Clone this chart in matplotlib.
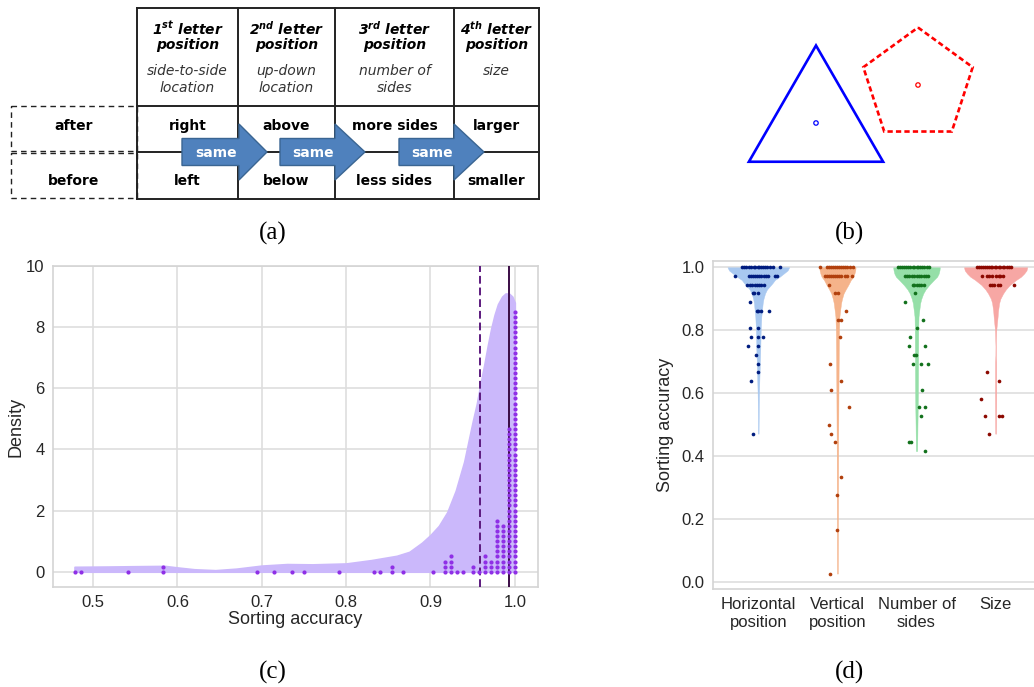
import numpy as np
import matplotlib
matplotlib.use("Agg")
import matplotlib.pyplot as plt
from matplotlib.patches import Polygon, Rectangle, RegularPolygon, Circle

plt.rcParams["font.family"] = ["Liberation Sans", "DejaVu Sans"]
plt.rcParams["mathtext.fontset"] = "custom"
plt.rcParams["mathtext.rm"] = "DejaVu Sans:italic:bold"
plt.rcParams["mathtext.it"] = "DejaVu Sans:italic:bold"

# Panel (a) table
ordinals = ["1", "2", "3", "4"]
ordinal_suffix = ["st", "nd", "rd", "th"]
dimension_desc = [["side-to-side", "location"], ["up-down", "location"],
                  ["number of", "sides"], ["size"]]
after_labels = ["right", "above", "more sides", "larger"]
before_labels = ["left", "below", "less sides", "smaller"]
row_names = ["after", "before"]
arrow_text = "same"

# Panel (b) shapes
shape_sides = [3, 5]

# Panel (c) per-participant sorting accuracy (value, number of participants)
acc_values = [0.478, 0.486, 0.542, 0.583, 0.694, 0.715, 0.736, 0.750, 0.792,
              0.833, 0.840, 0.854, 0.868, 0.903, 0.917, 0.924, 0.931, 0.938,
              0.951, 0.958, 0.965, 0.972, 0.979, 0.986, 0.993, 1.000]
acc_counts = [1, 1, 1, 2, 1, 1, 1, 1, 1, 1, 1, 2, 1, 1, 3, 4, 1, 1, 2, 1, 4, 3,
              11, 10, 29, 52]
kde_x = [0.478, 0.50, 0.52, 0.55, 0.585, 0.60, 0.62, 0.645, 0.67, 0.70, 0.73,
         0.76, 0.80, 0.83, 0.86, 0.875, 0.89, 0.90, 0.91, 0.92, 0.93, 0.94,
         0.95, 0.955, 0.959, 0.964, 0.968, 0.972, 0.976, 0.98, 0.985, 0.989,
         0.993, 0.997, 1.0]
kde_y = [0.16, 0.165, 0.17, 0.18, 0.19, 0.14, 0.08, 0.05, 0.10, 0.20, 0.25,
         0.24, 0.27, 0.38, 0.52, 0.65, 0.95, 1.2, 1.5, 1.95, 2.65, 3.6, 4.9,
         5.5, 6.1, 6.8, 7.4, 7.95, 8.4, 8.75, 9.0, 9.1, 9.1, 9.0, 8.8]
acc_mean = 0.959
acc_median = 0.993

# Panel (d) per-dimension accuracy
dim_labels = ["Horizontal\nposition", "Vertical\nposition", "Number of\nsides", "Size"]
violin_colors = ["#a8c8f0", "#f5b38a", "#95dfa8", "#f7a7a4"]
dot_colors = ["#001c7f", "#b1400d", "#12711c", "#8c0800"]

h_levels = [1.0, 0.972, 0.944, 0.917, 0.889, 0.861, 0.806, 0.778, 0.75, 0.722,
            0.694, 0.667, 0.639, 0.472]
h_jitter = [[-0.21, -0.18, -0.15, -0.12, -0.09, -0.06, -0.04, -0.01, 0.01, 0.04,
             0.06, 0.09, 0.11, 0.15, 0.18, 0.27],
            [-0.30, -0.12, -0.09, -0.07, -0.04, -0.02, 0.01, 0.04, 0.07, 0.10,
             0.12, 0.21, 0.23],
            [-0.14, -0.11, -0.08, -0.04, -0.02, 0.01, 0.04, 0.07],
            [-0.07, -0.05, -0.01], [-0.11], [-0.02, 0.0, 0.03, 0.13],
            [-0.11, 0.0], [-0.09, 0.0, 0.06], [-0.13, -0.01], [-0.03], [0.0],
            [-0.01], [-0.09], [-0.07]]
v_levels = [1.0, 0.972, 0.944, 0.917, 0.861, 0.833, 0.778, 0.694, 0.639, 0.611,
            0.556, 0.5, 0.472, 0.444, 0.333, 0.278, 0.167, 0.028]
v_jitter = [[-0.22, -0.13, -0.11, -0.08, -0.06, -0.03, -0.01, 0.02, 0.04, 0.07,
             0.09, 0.12, 0.16, 0.20],
            [-0.16, -0.13, -0.11, -0.08, -0.05, -0.03, 0.0, 0.02, 0.05, 0.09,
             0.12, 0.18],
            [-0.11], [-0.03, 0.01], [0.11], [0.01, 0.05], [0.03], [-0.09],
            [0.05], [-0.08], [0.15], [-0.11], [-0.08], [-0.03], [0.04],
            [-0.01], [0.0], [-0.10]]
n_levels = [1.0, 0.972, 0.944, 0.917, 0.889, 0.833, 0.806, 0.778, 0.75, 0.722,
            0.694, 0.611, 0.556, 0.528, 0.444, 0.417]
n_jitter = [[-0.23, -0.21, -0.18, -0.16, -0.13, -0.11, -0.08, -0.05, -0.03, 0.0,
             0.02, 0.05, 0.07, 0.10, 0.13, 0.16],
            [-0.15, -0.12, -0.09, -0.06, -0.03, 0.0, 0.03, 0.06, 0.09, 0.12, 0.15],
            [-0.05, -0.03, 0.0, 0.03, 0.06, 0.10],
            [-0.02], [-0.15], [0.08], [0.01], [-0.08], [-0.10, 0.11],
            [-0.03, -0.01], [-0.04, 0.06, 0.15], [0.07], [0.03, 0.11], [0.06],
            [-0.10, -0.07], [0.11]]
s_levels = [1.0, 0.972, 0.944, 0.667, 0.639, 0.583, 0.528, 0.472]
s_jitter = [[-0.24, -0.21, -0.19, -0.16, -0.14, -0.11, -0.09, -0.06, -0.04, -0.01,
             0.01, 0.04, 0.06, 0.09, 0.11, 0.14, 0.17, 0.20],
            [-0.17, -0.11, -0.08, -0.05, 0.01, 0.04, 0.06, 0.09],
            [-0.07, -0.05, -0.02, 0.03, 0.06, 0.23],
            [-0.11], [0.04], [-0.18], [-0.14, 0.04, 0.08], [-0.09]]

# violin half widths (category units) read at accuracy levels
h_vy = [1.0, 0.99, 0.98, 0.97, 0.96, 0.95, 0.944, 0.93, 0.917, 0.90, 0.886,
        0.86, 0.843, 0.80, 0.74, 0.70, 0.65, 0.60, 0.55, 0.50, 0.472]
h_vw = [0.39, 0.37, 0.32, 0.27, 0.21, 0.18, 0.16, 0.11, 0.085, 0.065, 0.055,
        0.045, 0.038, 0.03, 0.025, 0.02, 0.014, 0.009, 0.006, 0.004, 0.003]
v_vy = [1.0, 0.99, 0.98, 0.97, 0.96, 0.944, 0.93, 0.917, 0.90, 0.886, 0.86,
        0.843, 0.80, 0.70, 0.60, 0.50, 0.40, 0.30, 0.20, 0.10, 0.028]
v_vw = [0.23, 0.225, 0.215, 0.20, 0.17, 0.137, 0.105, 0.078, 0.058, 0.046,
        0.033, 0.025, 0.02, 0.016, 0.013, 0.011, 0.009, 0.008, 0.007, 0.006, 0.005]
n_vy = [1.0, 0.99, 0.98, 0.97, 0.96, 0.944, 0.93, 0.917, 0.90, 0.886, 0.86,
        0.843, 0.80, 0.75, 0.70, 0.60, 0.50, 0.417]
n_vw = [0.295, 0.29, 0.28, 0.26, 0.22, 0.16, 0.115, 0.085, 0.06, 0.046, 0.033,
        0.025, 0.022, 0.021, 0.02, 0.018, 0.012, 0.008]
s_vy = [1.0, 0.99, 0.98, 0.97, 0.96, 0.944, 0.93, 0.917, 0.90, 0.886, 0.86,
        0.843, 0.80, 0.75, 0.72, 0.70, 0.60, 0.50, 0.472]
s_vw = [0.40, 0.39, 0.36, 0.32, 0.26, 0.18, 0.13, 0.095, 0.06, 0.044, 0.03,
        0.025, 0.008, 0.002, 0.003, 0.007, 0.008, 0.006, 0.005]

W, H = 1034, 687
fig = plt.figure(figsize=(W / 100, H / 100), dpi=100)
fig.patch.set_facecolor("white")

# overlay in pixel coords for (a), (b) and panel letters
ov = fig.add_axes([0, 0, 1, 1])
ov.set_xlim(0, W)
ov.set_ylim(H, 0)
ov.axis("off")

# ---- (a) table
col_x = [137, 238, 335, 454, 539]
row_y = [8, 106, 152, 199]
for x in col_x:
    ov.plot([x, x], [row_y[0], row_y[-1]], color="#222222", lw=1.4, zorder=2)
for y in row_y:
    ov.plot([col_x[0], col_x[-1]], [y, y], color="#222222", lw=1.4, zorder=2)

for i in range(4):
    cx = (col_x[i] + col_x[i + 1]) / 2
    ov.text(cx, 29, r"$%s^{%s}\ letter$" % (ordinals[i], ordinal_suffix[i]),
            ha="center", va="center", fontsize=10)
    ov.text(cx, 45, "position", ha="center", va="center", fontsize=10,
            family="DejaVu Sans", weight="bold", style="italic")
    for j, line in enumerate(dimension_desc[i]):
        ov.text(cx, 71 + 17 * j, line, ha="center", va="center", fontsize=10,
                family="DejaVu Sans", style="italic", color="#333333")
    ov.text(cx, 126, after_labels[i], ha="center", va="center", fontsize=10,
            family="DejaVu Sans", weight="bold")
    ov.text(cx, 181, before_labels[i], ha="center", va="center", fontsize=10,
            family="DejaVu Sans", weight="bold")

# dashed boxes on the left
for k, (y0, y1) in enumerate([(106, 151), (153, 198)]):
    ov.add_patch(Rectangle((11, y0), 137 - 11, y1 - y0, fill=False, ls=(0, (4, 3)),
                           lw=1.0, ec="#222222", zorder=1))
    ov.text(74, (126, 181)[k], row_names[k], ha="center", va="center",
            fontsize=10, family="DejaVu Sans", weight="bold")

# block arrows
for x0, xh, xt in [(182, 239, 267), (280, 335, 365), (399, 454, 484)]:
    yc, bh, hh = 152, 13.5, 28
    pts = [(x0, yc - bh), (xh, yc - bh), (xh, yc - hh), (xt, yc),
           (xh, yc + hh), (xh, yc + bh), (x0, yc + bh)]
    ov.add_patch(Polygon(pts, closed=True, fc="#4f81bd", ec="#3a6592", lw=1.0, zorder=5))
    ov.text((x0 + xh) / 2 + 6, yc + 1, arrow_text, ha="center", va="center",
            color="white", fontsize=10, family="DejaVu Sans", weight="bold", zorder=6)

# ---- (b) shapes
ov.add_patch(RegularPolygon((816, 123), numVertices=shape_sides[0], radius=77.5,
                            orientation=np.pi, fill=False, ec="#0000ff", lw=1.9))
ov.add_patch(Circle((816, 123), 2.2, fill=False, ec="#0000ff", lw=0.9))
ov.add_patch(RegularPolygon((918, 85), numVertices=shape_sides[1], radius=57.5,
                            orientation=np.pi, fill=False, ec="#ff0000", lw=1.9,
                            ls=(0, (2, 1.2))))
ov.add_patch(Circle((918, 85), 2.2, fill=False, ec="#ff0000", lw=0.9))

for lab, (lx, ly) in zip(["(a)", "(b)", "(c)", "(d)"],
                         [(273, 233), (850, 233), (273, 672), (850, 672)]):
    ov.text(lx, ly, lab, ha="center", va="center", fontsize=18,
            family="Liberation Serif", color="black")

grid_c = "#dedede"
text_c = "#262626"

# ---- (c) density of sorting accuracy
ax = fig.add_axes([53 / W, 1 - 587 / H, 485 / W, 321 / H])
ax.set_facecolor("white")
ax.fill_between(kde_x, 0, kde_y, color="#cbb8fb", lw=1.2, ec="#cbb8fb", zorder=2)
dot_step = 1 / 6
for v, c in zip(acc_values, acc_counts):
    ax.scatter([v] * c, np.arange(c) * dot_step, s=9, color="#8f2fe6", lw=0, zorder=4)
ax.axvline(acc_mean, color="#5c1a7e", lw=1.4, ls=(0, (4, 2)), zorder=3)
ax.axvline(acc_median, color="#3a0c45", lw=1.4, zorder=3)
ax.set_xlim(0.4525, 1.0275)
ax.set_ylim(-0.5, 10)
ax.set_xticks([0.5, 0.6, 0.7, 0.8, 0.9, 1.0])
ax.set_yticks([0, 2, 4, 6, 8, 10])
ax.grid(True, color=grid_c, lw=1.2, zorder=0)
ax.set_axisbelow(True)
for s in ax.spines.values():
    s.set_color("#d4d4d4")
    s.set_linewidth(1.2)
ax.tick_params(length=0, labelsize=12, colors=text_c, pad=6)
ax.set_xlabel("Sorting accuracy", fontsize=13, color=text_c)
ax.set_ylabel("Density", fontsize=13, color=text_c)
ax.xaxis.set_label_coords(0.5, -0.075)
ax.yaxis.set_label_coords(-0.058, 0.5)

# ---- (d) violins with strip points
ax2 = fig.add_axes([713 / W, 1 - 589 / H, 327 / W, 328 / H])
profiles = [(h_vy, h_vw), (v_vy, v_vw), (n_vy, n_vw), (s_vy, s_vw)]
strips = [(h_levels, h_jitter), (v_levels, v_jitter), (n_levels, n_jitter),
          (s_levels, s_jitter)]
for i in range(4):
    vy, vw = profiles[i]
    vy = np.array(vy)
    vw = np.array(vw)
    ax2.fill_betweenx(vy, i - vw, i + vw, color=violin_colors[i], lw=0.3,
                      ec=violin_colors[i], zorder=2)
    levels, jit = strips[i]
    xs, ys = [], []
    for lev, offs in zip(levels, jit):
        for o in offs:
            xs.append(i + o)
            ys.append(lev)
    ax2.scatter(xs, ys, s=7, color=dot_colors[i], lw=0, zorder=4)
ax2.set_xlim(-0.573, 3.561)
ax2.set_ylim(-0.021, 1.02)
ax2.set_xticks(range(4))
ax2.set_xticklabels(dim_labels)
ax2.set_yticks([0.0, 0.2, 0.4, 0.6, 0.8, 1.0])
ax2.set_yticklabels(["0.0", "0.2", "0.4", "0.6", "0.8", "1.0"])
ax2.yaxis.grid(True, color=grid_c, lw=1.2, zorder=0)
ax2.set_axisbelow(True)
for s in ax2.spines.values():
    s.set_color("#d4d4d4")
    s.set_linewidth(1.2)
ax2.tick_params(length=0, labelsize=12, colors=text_c, pad=6)
ax2.set_ylabel("Sorting accuracy", fontsize=13, color=text_c)
ax2.yaxis.set_label_coords(-0.12, 0.5)
for t in ax2.get_xticklabels():
    t.set_linespacing(1.25)

fig.savefig("out.png", dpi=100)
